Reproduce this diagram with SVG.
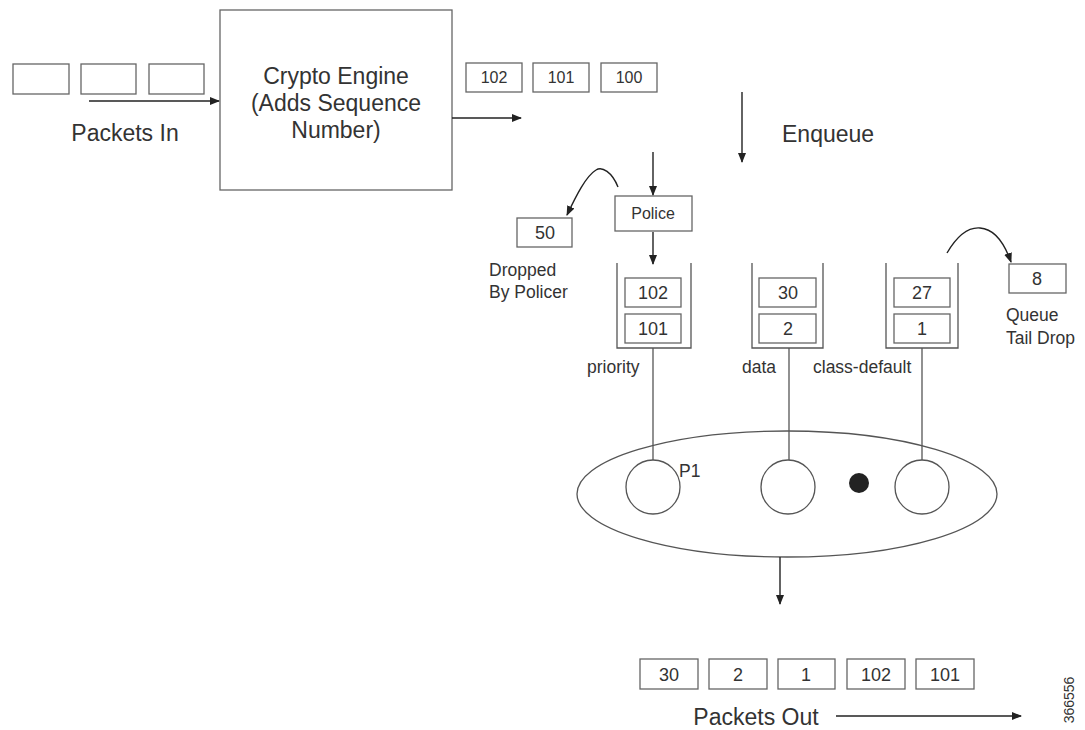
<svg xmlns="http://www.w3.org/2000/svg" width="1085" height="730" viewBox="0 0 1085 730">
<defs>
<marker id="ah" viewBox="0 0 10 10" refX="9" refY="5" markerWidth="10" markerHeight="10" markerUnits="userSpaceOnUse" orient="auto">
<path d="M0,1 L10,5 L0,9 z" fill="#222"/>
</marker>
</defs>
<style>
.b{fill:#fff;stroke:#666;stroke-width:1.3}
.l{fill:none;stroke:#555;stroke-width:1.3}
.a{fill:none;stroke:#222;stroke-width:1.4;marker-end:url(#ah)}
text{font-family:"Liberation Sans",Arial,sans-serif;fill:#333;text-anchor:middle}
.big{font-size:23px}
.sm{font-size:16px}
.md{font-size:18px}
.lab{font-size:17.5px;text-anchor:start}
</style>
<rect width="1085" height="730" fill="#fff"/>
<g id="packets-in">
<rect class="b" x="13" y="64" width="56" height="30"/>
<rect class="b" x="81" y="64" width="55" height="30"/>
<rect class="b" x="149" y="64" width="55" height="30"/>
<text class="big" x="125" y="141">Packets In</text>
</g>
<g id="crypto">
<rect class="b" x="220" y="10" width="232" height="180"/>
<text class="big" x="336" y="84">Crypto Engine</text>
<text class="big" x="336" y="111">(Adds Sequence</text>
<text class="big" x="336" y="138">Number)</text>
</g>
<g id="sequenced">
<rect class="b" x="466" y="63" width="56" height="29"/>
<text class="sm" x="494" y="83">102</text>
<rect class="b" x="533" y="63" width="56" height="29"/>
<text class="sm" x="561" y="83">101</text>
<rect class="b" x="601" y="63" width="56" height="29"/>
<text class="sm" x="629" y="83">100</text>
</g>
<g id="enqueue-label">
<text class="big" x="782" y="142" style="text-anchor:start">Enqueue</text>
</g>
<g id="police">
<rect class="b" x="615" y="196" width="77" height="35"/>
<text class="sm" x="653" y="219">Police</text>
</g>
<g id="dropped">
<rect class="b" x="517" y="218" width="55" height="29"/>
<text class="md" x="545" y="239">50</text>
<text class="lab" x="489" y="276">Dropped</text>
<text class="lab" x="489" y="298">By Policer</text>
</g>
<g id="priority-queue">
<path class="l" d="M617,263 V348 H691 V263"/>
<rect class="b" x="625" y="278" width="56" height="29"/>
<text class="md" x="653" y="299">102</text>
<rect class="b" x="625" y="314" width="56" height="29"/>
<text class="md" x="653" y="335">101</text>
<text class="lab" x="587" y="373">priority</text>
</g>
<g id="data-queue">
<path class="l" d="M752,263 V348 H823 V263"/>
<rect class="b" x="759" y="278" width="57" height="29"/>
<text class="md" x="788" y="299">30</text>
<rect class="b" x="759" y="314" width="57" height="29"/>
<text class="md" x="788" y="335">2</text>
<text class="lab" x="742" y="373">data</text>
</g>
<g id="class-default-queue">
<path class="l" d="M886,263 V348 H958 V263"/>
<rect class="b" x="894" y="278" width="56" height="29"/>
<text class="md" x="922" y="299">27</text>
<rect class="b" x="894" y="314" width="56" height="29"/>
<text class="md" x="922" y="335">1</text>
<text class="lab" x="813" y="373">class-default</text>
</g>
<g id="tail-drop">
<rect class="b" x="1009" y="264" width="57" height="29"/>
<text class="md" x="1037" y="285">8</text>
<text class="lab" x="1006" y="321">Queue</text>
<text class="lab" x="1006" y="344">Tail Drop</text>
</g>
<g id="scheduler">
<ellipse class="l" cx="787" cy="494" rx="210" ry="63"/>
<circle class="l" cx="653" cy="487" r="27"/>
<text class="lab" x="679" y="477">P1</text>
<circle class="l" cx="788" cy="487" r="27"/>
<circle cx="859" cy="483" r="10" fill="#222"/>
<circle class="l" cx="922" cy="487" r="27"/>
</g>
<g id="packets-out">
<rect class="b" x="640" y="659" width="58" height="30"/>
<text class="md" x="669" y="681">30</text>
<rect class="b" x="709" y="659" width="58" height="30"/>
<text class="md" x="738" y="681">2</text>
<rect class="b" x="778" y="659" width="57" height="30"/>
<text class="md" x="806" y="681">1</text>
<rect class="b" x="847" y="659" width="58" height="30"/>
<text class="md" x="876" y="681">102</text>
<rect class="b" x="916" y="659" width="58" height="30"/>
<text class="md" x="945" y="681">101</text>
<text class="big" x="756" y="725">Packets Out</text>
</g>
<g id="figure-id">
<text style="font-size:14px" transform="translate(1074,700) rotate(-90)">366556</text>
</g>
<g id="connectors">
<path class="a" d="M89,101 H219"/>
<path class="a" d="M452,118 H521"/>
<path class="a" d="M742,92 V162"/>
<path class="a" d="M653,152 V195"/>
<path class="a" d="M653,232 V264"/>
<path class="a" d="M618,187 C612,172 602,166 596,170 C586,176 576,196 567,215"/>
<path class="a" d="M947,253 C957,236 968,227 980,228 C995,229 1005,245 1011,262"/>
<path class="l" d="M653,348 V460"/>
<path class="l" d="M789,348 V460"/>
<path class="l" d="M922,348 V460"/>
<path class="a" d="M780,557 V604"/>
<path class="a" d="M836,716 H1021"/>
</g>
</svg>
